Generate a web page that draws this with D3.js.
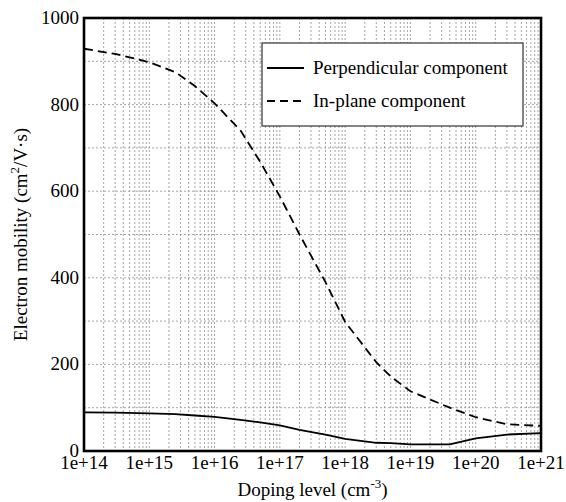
<!DOCTYPE html>
<html>
<head>
<meta charset="utf-8">
<script src="https://cdn.jsdelivr.net/npm/d3@7"></script>
</head>
<body style="margin:0">
<div id="chart"></div>
<script>
// --- Data ---
const doping = [1e14, 3e14, 1e15, 2.5e15, 5e15, 1e16, 2.5e16, 5e16, 1e17, 2e17, 5e17, 1e18, 3e18, 5e18, 1e19, 4e19, 1e20, 3e20, 1e21];
const inPlane = [929, 917, 898, 875, 843, 803, 740, 668, 588, 500, 390, 298, 205, 172, 138, 100, 78, 62, 58];
const perpendicular = [89, 88.5, 87, 85, 82, 79, 72, 66, 59, 49, 38, 28, 19, 18, 15.5, 15.4, 29, 38, 41.5];
const yTicks = [0, 200, 400, 600, 800, 1000];
const xTicks = [1e14, 1e15, 1e16, 1e17, 1e18, 1e19, 1e20, 1e21];
const seriesNames = ["Perpendicular component", "In-plane component"];

const FONT = "serif";

// --- Layout ---
const W = 566, H = 502;
const margin = { top: 18, right: 25, bottom: 51, left: 84 };
const iw = W - margin.left - margin.right;
const ih = H - margin.top - margin.bottom;

const svg = d3.select("#chart").append("svg")
  .attr("width", W).attr("height", H)
  .attr("font-family", FONT);

const g = svg.append("g").attr("transform", `translate(${margin.left},${margin.top})`);

const x = d3.scaleLog().domain([1e14, 1e21]).range([0, iw]);
const y = d3.scaleLinear().domain([0, 1000]).range([ih, 0]);

// grid: every sub-decade on x, every 100 on y
const xGrid = [];
for (let e = 14; e < 21; e++) for (let m = 1; m <= 9; m++) xGrid.push(m * Math.pow(10, e));
const yGrid = d3.range(100, 1000, 100);

g.append("g").selectAll("line").data(xGrid.slice(1)).enter().append("line")
  .attr("x1", d => x(d)).attr("x2", d => x(d))
  .attr("y1", 0).attr("y2", ih)
  .attr("stroke", "#9a9a9a").attr("stroke-width", 0.9).attr("stroke-dasharray", "2,2");

g.append("g").selectAll("line").data(yGrid).enter().append("line")
  .attr("x1", 0).attr("x2", iw)
  .attr("y1", d => y(d)).attr("y2", d => y(d))
  .attr("stroke", "#9a9a9a").attr("stroke-width", 0.9).attr("stroke-dasharray", "2,2");

// curves
const line = vals => d3.line()
  .x((d, i) => x(doping[i]))
  .y(d => y(d))(vals);

g.append("path").attr("d", line(perpendicular))
  .attr("fill", "none").attr("stroke", "#000").attr("stroke-width", 1.8);
g.append("path").attr("d", line(inPlane))
  .attr("fill", "none").attr("stroke", "#000").attr("stroke-width", 1.8)
  .attr("stroke-dasharray", "9,5");

// tick labels
g.append("g").selectAll("text").data(xTicks).enter().append("text")
  .attr("x", d => x(d)).attr("y", ih + 18)
  .attr("text-anchor", "middle")
  .attr("font-family", FONT).attr("font-size", 19)
  .text(d => "1e+" + Math.round(Math.log10(d)));

g.append("g").selectAll("text").data(yTicks).enter().append("text")
  .attr("x", -5).attr("y", d => y(d) + 6)
  .attr("text-anchor", "end")
  .attr("font-family", FONT).attr("font-size", 19)
  .text(d => d);

// frame
g.append("rect").attr("width", iw).attr("height", ih)
  .attr("fill", "none").attr("stroke", "#000").attr("stroke-width", 2.6);

// axis titles
const xt = svg.append("text")
  .attr("x", margin.left + iw / 2).attr("y", 496)
  .attr("text-anchor", "middle").attr("font-size", 19)
  .attr("font-family", FONT);
xt.append("tspan").text("Doping level (cm");
xt.append("tspan").attr("font-size", 13).attr("dy", -8).text("-3");
xt.append("tspan").attr("dy", 8).text(")");

const yt = svg.append("text")
  .attr("transform", `translate(27,${margin.top + ih / 2}) rotate(-90)`)
  .attr("text-anchor", "middle").attr("font-size", 19)
  .attr("font-family", FONT);
yt.append("tspan").text("Electron mobility (cm");
yt.append("tspan").attr("font-size", 13).attr("dy", -8).text("2");
yt.append("tspan").attr("dy", 8).text("/V\u00b7s)");

// legend
const lg = svg.append("g").attr("transform", "translate(262,43)");
lg.append("rect").attr("width", 261).attr("height", 83)
  .attr("fill", "#fff").attr("stroke", "#333").attr("stroke-width", 1.2);
seriesNames.forEach((name, i) => {
  const ly = 25 + i * 33;
  lg.append("line").attr("x1", 5).attr("x2", 42).attr("y1", ly).attr("y2", ly)
    .attr("stroke", "#000").attr("stroke-width", 1.8)
    .attr("stroke-dasharray", i === 1 ? "8,5" : null);
  lg.append("text").attr("x", 51).attr("y", ly + 6).attr("font-size", 19)
    .attr("font-family", FONT).text(name);
});
</script>
</body>
</html>
